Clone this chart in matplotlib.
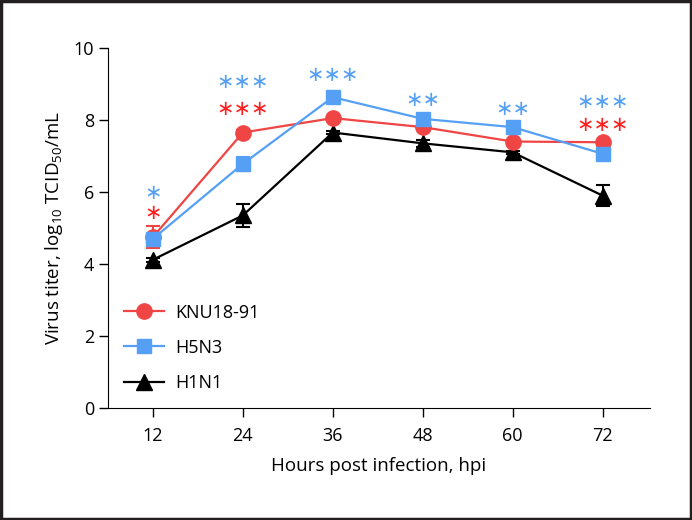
import matplotlib
matplotlib.use('Agg')
import matplotlib.pyplot as plt
from matplotlib.lines import Line2D
from matplotlib.patches import Rectangle

plt.rcParams['font.family'] = ['Open Sans', 'DejaVu Sans']
plt.rcParams['mathtext.fontset'] = 'custom'
plt.rcParams['mathtext.rm'] = 'Open Sans'
plt.rcParams['mathtext.it'] = 'Open Sans'

# Data
hours = [12, 24, 36, 48, 60, 72]
knu = [4.75, 7.65, 8.05, 7.8, 7.4, 7.38]
knu_err = [0.3, 0.08, 0.05, 0.05, 0.05, 0.05]
h5n3 = [4.7, 6.78, 8.63, 8.03, 7.8, 7.06]
h5n3_err = [0.1, 0.2, 0.05, 0.05, 0.05, 0.05]
h1n1 = [4.12, 5.35, 7.65, 7.35, 7.1, 5.9]
h1n1_err = [0.05, 0.33, 0.05, 0.1, 0.05, 0.28]

# significance marks above each time point
stars_blue = ['*', '***', '***', '**', '**', '***']
stars_blue_y = [5.98, 9.05, 9.25, 8.55, 8.3, 8.5]
stars_red = ['*', '***', '', '', '', '***']
stars_red_y = [5.42, 8.3, 0, 0, 0, 7.85]

red = '#f04545'
blue = '#55a0f5'
star_red = '#ff2020'

fig = plt.figure(figsize=(6.92, 5.2), dpi=100)
ax = fig.add_axes([0.156, 0.215, 0.783, 0.693])

style = dict(lw=1.6, capsize=5, capthick=1.5, elinewidth=1.5)
ax.errorbar(hours, h1n1, yerr=h1n1_err, color='black', marker='^', ms=11, zorder=3, **style)
ax.errorbar(hours, knu, yerr=knu_err, color=red, marker='o', ms=11, zorder=4, **style)
ax.errorbar(hours, h5n3, yerr=h5n3_err, color=blue, marker='s', ms=10.5, zorder=5, **style)

for x, s, y in zip(hours, stars_blue, stars_blue_y):
    ax.text(x, y, s.replace('*', '\u2217'), color=blue, ha='center', va='center',
            fontsize=15, family='DejaVu Sans')
for x, s, y in zip(hours, stars_red, stars_red_y):
    if s:
        ax.text(x, y, s.replace('*', '\u2217'), color=star_red, ha='center', va='center',
                fontsize=15, family='DejaVu Sans')

ax.set_xlim(6, 78.3)
ax.set_ylim(0, 10)
ax.set_xticks(hours)
ax.set_yticks([0, 2, 4, 6, 8, 10])
ax.tick_params(labelsize=13, length=6.5, width=1)
ax.tick_params(axis='x', pad=7)
ax.spines['top'].set_visible(False)
ax.spines['right'].set_visible(False)
ax.set_xlabel('Hours post infection, hpi', fontsize=13.5, labelpad=9)
ax.set_ylabel('Virus titer, log$_{10}$ TCID$_{50}$/mL', fontsize=13.5, labelpad=6)

handles = [
    Line2D([], [], color=red, marker='o', ms=11, lw=1.6),
    Line2D([], [], color=blue, marker='s', ms=10.5, lw=1.6),
    Line2D([], [], color='black', marker='^', ms=11, lw=1.6),
]
ax.legend(handles, ['KNU18-91', 'H5N3', 'H1N1'],
          loc='lower left', bbox_to_anchor=(0.0, 0.0), frameon=False,
          fontsize=13, handlelength=2.2, labelspacing=0.95, handletextpad=0.6)

fig.patches.append(Rectangle((0.002, 0.002), 0.996, 0.996, transform=fig.transFigure,
                             fill=False, edgecolor='#231f20', lw=2.5))

fig.savefig('out.png', dpi=100)
